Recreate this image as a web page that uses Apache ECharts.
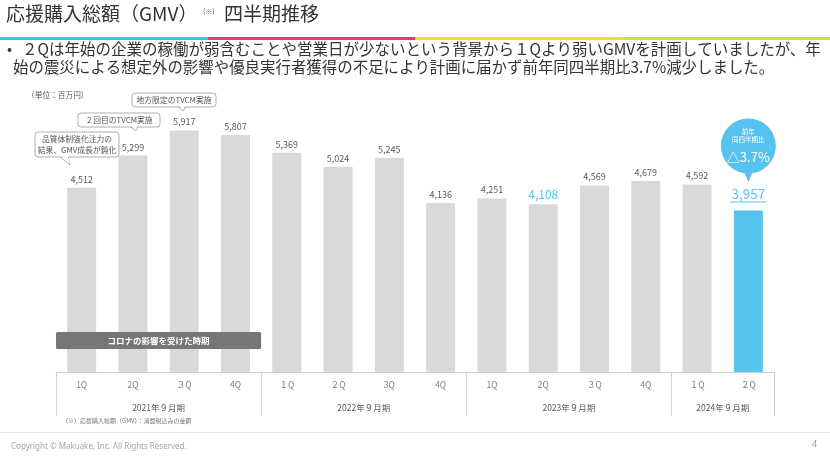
<!DOCTYPE html>
<html><head><meta charset="utf-8">
<script src="https://cdn.jsdelivr.net/npm/echarts@6/dist/echarts.min.js"></script>
<style>html,body{margin:0;padding:0;background:#fff}#c{width:830px;height:460px}</style>
</head><body><div id="c"></div>
<script>
const quarters = ['1Q','2Q','３Q','4Q','１Q','２Q','3Q','4Q','1Q','2Q','３Q','4Q','１Q','２Q'];
const gmv = [4512,5299,5917,5807,5369,5024,5245,4136,4251,4108,4569,4679,4592,3957];
const fiscalYears = ['2021年９月期','2022年９月期','2023年９月期','2024年９月期'];
const yearSizes = [4,4,4,2];
const yoyText = '△3.7%';

const FONT = '"Noto Sans CJK JP","Noto Sans",sans-serif';
const GRAY = '#d9d9d9', BLUE = '#56c2f0', LINE = '#d0d0d0';

const boundaries = []; const yearCenters = {};
let acc = 0;
yearSizes.forEach((s, i) => { boundaries.push(acc); yearCenters[acc + s / 2] = fiscalYears[i]; acc += s; });

const fmt = v => v.toLocaleString('en-US');
const lastIdx = gmv.length - 1;
const barData = gmv.map((v, i) => {
  if (i === lastIdx) return {
    value: v, itemStyle: { color: BLUE },
    label: { formatter: p => '{v|' + fmt(p.value) + '}\n{u| }', distance: 8,
      rich: { v: { fontSize: 13.5, color: BLUE, fontFamily: FONT, lineHeight: 16 },
              u: { fontSize: 1, lineHeight: 1, height: 1, width: 36, backgroundColor: BLUE } } }
  };
  if (i === 9) return { value: v, label: { fontSize: 12, color: BLUE } };
  return v;
});

const chart = echarts.init(document.getElementById('c'), null, { renderer: 'canvas' });
chart.setOption({
  animation: false,
  textStyle: { fontFamily: FONT },
  grid: { left: 56, right: 56, top: 127, bottom: 88 },
  xAxis: [{
    type: 'category', data: quarters,
    axisLine: { lineStyle: { color: LINE, width: 1 } },
    axisTick: { show: true, length: 44, interval: (idx) => boundaries.includes(idx), lineStyle: { color: LINE } },
    axisLabel: { interval: 0, margin: 9, fontSize: 8.5, color: '#808080', fontFamily: FONT }
  }, {
    type: 'value', min: 0, max: quarters.length, interval: 1, position: 'bottom',
    axisLine: { show: false }, axisTick: { show: false }, splitLine: { show: false },
    axisLabel: { margin: 32, fontSize: 8.5, color: '#595959', fontFamily: FONT, showMinLabel: true, showMaxLabel: true,
      formatter: v => yearCenters[v] || '' }
  }],
  yAxis: { type: 'value', min: 0, max: 6000, show: false, splitLine: { show: false } },
  series: [{
    type: 'bar', xAxisIndex: 0, yAxisIndex: 0, data: barData, barWidth: 29,
    itemStyle: { color: GRAY },
    label: { show: true, position: 'top', distance: 4, fontSize: 9, color: '#595959', fontFamily: FONT, formatter: p => fmt(p.value) }
  }]
});

const px = (i, v) => chart.convertToPixel({ xAxisIndex: 0, yAxisIndex: 0 }, [i, v]);
const bw = px(1, 0)[0] - px(0, 0)[0];
const g = [];
// title
g.push({ type: 'text', left: 6, top: 4, style: { text: '応援購入総額（GMV）', fontSize: 19, fill: '#333', fontFamily: FONT } });
g.push({ type: 'text', left: 203, top: 8, style: { text: '(※)', fontSize: 7, fill: '#555', fontFamily: FONT } });
g.push({ type: 'text', left: 224, top: 4, style: { text: '四半期推移', fontSize: 19, fill: '#333', fontFamily: FONT } });
['#22cdf2', '#ff2f7b', '#ffe200', '#c2ee20'].forEach((c, i) => {
  g.push({ type: 'rect', shape: { x: i * 207.5, y: 37, width: 207.5, height: 3 }, style: { fill: c } });
});
g.push({ type: 'text', left: 7, top: 41, style: { text: '•', fontSize: 15, fill: '#333', fontFamily: FONT } });
g.push({ type: 'text', left: 22, top: 41, style: { text: '２Qは年始の企業の稼働が弱含むことや営業日が少ないという背景から１Qより弱いGMVを計画していましたが、年', fontSize: 15.5, fill: '#333', fontFamily: FONT } });
g.push({ type: 'text', left: 13, top: 59, style: { text: '始の震災による想定外の影響や優良実行者獲得の不足により計画に届かず前年同四半期比3.7%減少しました。', fontSize: 15.45, fill: '#333', fontFamily: FONT } });
g.push({ type: 'text', left: 27, top: 91, style: { text: '（単位：百万円）', fontSize: 7.7, fill: '#555', fontFamily: FONT } });

// callouts
function callout(x, y, w, h, tail, lines) {
  g.push({ type: 'polygon', shape: { points: tail }, style: { fill: '#fff', stroke: '#9a9a9a', lineWidth: 0.8 }, z: 10 });
  g.push({ type: 'rect', shape: { x, y, width: w, height: h, r: 3 }, style: { fill: '#fff', stroke: '#9a9a9a', lineWidth: 0.8 }, z: 11 });
  g.push({ type: 'polygon', shape: { points: [[tail[0][0] + 0.8, tail[0][1] - 1], [tail[1][0] - 0.8, tail[1][1] - 1], [tail[2][0], tail[2][1] - 1.5]] }, style: { fill: '#fff' }, z: 12 });
  g.push({ type: 'text', x: x + w / 2, y: y + h / 2, style: { text: lines, fontSize: 7.8, lineHeight: 11, fill: '#555', align: 'center', verticalAlign: 'middle', fontFamily: FONT }, z: 13 });
}
callout(35, 132, 84, 25, [[60, 156.5], [68, 156.5], [70, 165]], '品質体制強化注力の\n結果、GMV成長が鈍化');
callout(78, 113, 82, 14, [[130, 126.5], [138, 126.5], [136, 131]], '２回目のTVCM実施');
callout(132, 93, 84, 14, [[178, 106.5], [186, 106.5], [183, 111]], '地方限定のTVCM実施');

// corona band
const c0 = px(0, 0)[0] - bw / 2, c1 = px(3, 0)[0] + bw / 2;
g.push({ type: 'rect', shape: { x: c0, y: 332, width: c1 - c0, height: 17, r: 1.5 }, style: { fill: '#767676' }, z: 20 });
g.push({ type: 'text', x: (c0 + c1) / 2, y: 340.5, style: { text: 'コロナの影響を受けた時期', fontSize: 8.5, fontWeight: 'bold', fill: '#fff', align: 'center', verticalAlign: 'middle', fontFamily: FONT }, z: 21 });

// blue bubble
const bx = px(lastIdx, 0)[0];
g.push({ type: 'circle', shape: { cx: bx, cy: 146, r: 27.5 }, style: { fill: BLUE }, z: 20 });
g.push({ type: 'polygon', shape: { points: [[bx - 5, 170], [bx + 5, 170], [bx, 182]] }, style: { fill: BLUE }, z: 20 });
g.push({ type: 'text', x: bx, y: 136, style: { text: '前年\n同四半期比', fontSize: 6.5, lineHeight: 8, fill: '#fff', align: 'center', verticalAlign: 'middle', fontFamily: FONT }, z: 21 });
g.push({ type: 'text', x: bx, y: 157, style: { text: yoyText, fontSize: 13, fill: '#fff', align: 'center', verticalAlign: 'middle', fontFamily: FONT }, z: 21 });

// footnote / footer
g.push({ type: 'text', left: 62, top: 418, style: { text: '（※）応援購入総額（GMV）：消費税込みの金額', fontSize: 6, fill: '#777', fontFamily: FONT } });
g.push({ type: 'rect', shape: { x: 0, y: 432, width: 830, height: 1 }, style: { fill: '#e3e3e3' } });
g.push({ type: 'text', left: 11, top: 443, style: { text: 'Copyright © Makuake, Inc. All Rights Reserved.', fontSize: 8, fill: '#a6a6a6', fontFamily: '"Noto Sans",sans-serif' } });
g.push({ type: 'text', left: 812, top: 440, style: { text: '4', fontSize: 9, fill: '#999', fontFamily: '"Noto Sans",sans-serif' } });

chart.setOption({ graphic: g });
</script></body></html>
